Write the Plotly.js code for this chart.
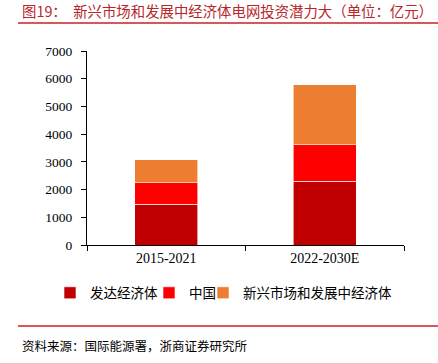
<!DOCTYPE html>
<html>
<head>
<meta charset="utf-8">
<script src="https://cdn.plot.ly/plotly-3.0.1.min.js"></script>
<style>html,body{margin:0;padding:0;background:#fff;}#chart{width:438px;height:363px;}</style>
</head>
<body>
<div id="chart"></div>
<script>
const categories = ['2015-2021', '2022-2030E'];
const seriesNames = ['发达经济体', '中国', '新兴市场和发展中经济体'];
const developed = [1475, 2300];
const china = [780, 1310];
const emerging = [825, 2180];
const yTicks = [0, 1000, 2000, 3000, 4000, 5000, 6000, 7000];
const titleText = '图19：\u00a0 新兴市场和发展中经济体电网投资潜力大（单位：亿元）';
const sourceText = '资料来源：国际能源署，浙商证券研究所';

const colors = ['#C00000', '#FF0000', '#ED7D31'];
const values = [developed, china, emerging];
const legendIds = ['legend', 'legend2', 'legend3'];
const cjk = '"Noto Sans CJK SC", sans-serif';
const serif = '"Liberation Serif", "Times New Roman", serif';

const traces = values.map((v, i) => ({
  type: 'bar',
  name: seriesNames[i],
  legend: legendIds[i],
  x: categories,
  y: v,
  width: 0.4,
  marker: {color: colors[i], line: {color: 'rgba(255,255,255,0.6)', width: 1}},
  hoverinfo: 'skip'
}));

// pixel helpers for decorations outside the plot area
const L = 87, R = 34, T = 51, B = 118, W = 438, H = 363;
const pw = W - L - R, ph = H - T - B;
const px = q => (q - L) / pw;
const py = p => (H - B - p) / ph;

const legendLeft = [50, 149, 203];
const legendBase = i => ({
  orientation: 'h',
  x: px(legendLeft[i]), xanchor: 'left',
  y: py(293), yanchor: 'middle',
  font: {family: cjk, size: 13.5, color: '#000'},
  bgcolor: 'rgba(0,0,0,0)'
});

const layout = {
  width: W, height: H,
  margin: {l: L, r: R, t: T, b: B, pad: 0},
  paper_bgcolor: '#fff', plot_bgcolor: '#fff',
  barmode: 'stack',
  showlegend: true,
  title: {
    text: titleText,
    font: {family: cjk, size: 14.4, color: '#B8262B'},
    x: 22 / W, xanchor: 'left', xref: 'container',
    y: 1 - 12 / H, yanchor: 'middle', yref: 'container'
  },
  xaxis: {
    type: 'category',
    range: [-0.5, 1.5],
    showline: true, linecolor: '#000', linewidth: 1,
    ticks: 'outside', ticklen: 5, tickcolor: '#000', tickson: 'boundaries',
    tickfont: {family: serif, size: 14, color: '#000'},
    showgrid: false, zeroline: false, fixedrange: true
  },
  yaxis: {
    range: [0, 7000],
    tickvals: yTicks,
    ticktext: yTicks.map(String),
    showline: true, linecolor: '#000', linewidth: 1,
    ticks: 'outside', ticklen: 5, tickcolor: '#000',
    ticklabelstandoff: 6,
    tickfont: {family: serif, size: 13.5, color: '#000'},
    showgrid: false, zeroline: false, fixedrange: true
  },
  legend: legendBase(0),
  legend2: legendBase(1),
  legend3: legendBase(2),
  shapes: [
    {type: 'line', xref: 'paper', yref: 'paper', x0: px(18), x1: px(438), y0: py(23), y1: py(23), line: {color: '#CC1F1F', width: 1.5}},
    {type: 'line', xref: 'paper', yref: 'paper', x0: px(18), x1: px(438), y0: py(326), y1: py(326), line: {color: '#CC1F1F', width: 1.5}}
  ],
  annotations: [
    {text: sourceText, xref: 'paper', yref: 'paper', x: px(20), xanchor: 'left', y: py(345), yanchor: 'middle', showarrow: false, font: {family: cjk, size: 12.5, color: '#000'}}
  ]
};

Plotly.newPlot('chart', traces, layout, {displayModeBar: false, staticPlot: true});
</script>
</body>
</html>
